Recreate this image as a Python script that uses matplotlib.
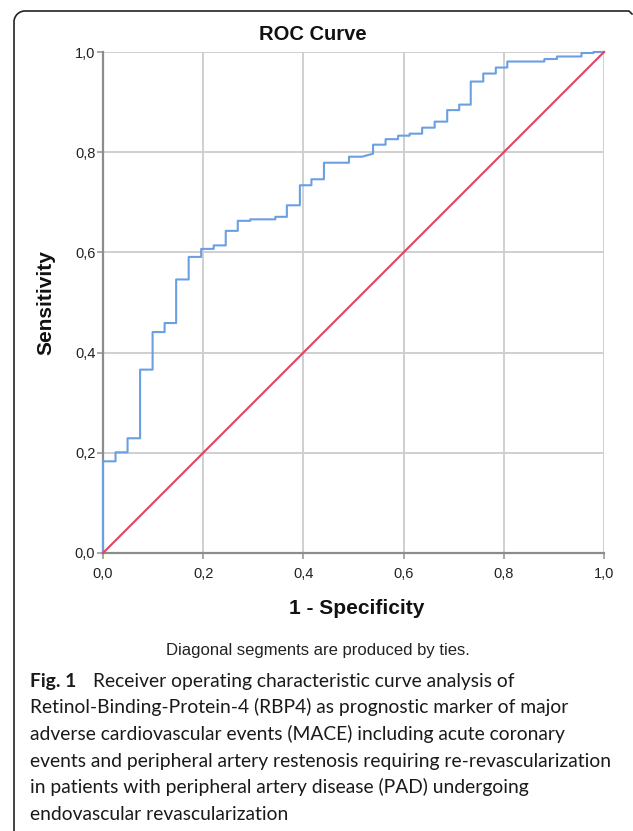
import numpy as np
import matplotlib
matplotlib.use("Agg")
import matplotlib.pyplot as plt

# ROC curve vertices (1 - specificity, sensitivity)
fpr = [0, 0, 0.025, 0.025, 0.049, 0.049, 0.074, 0.074, 0.099, 0.099,
       0.123, 0.123, 0.146, 0.146, 0.171, 0.171, 0.196, 0.196, 0.221, 0.221,
       0.245, 0.245, 0.269, 0.269, 0.294, 0.294, 0.344, 0.344, 0.367, 0.367,
       0.393, 0.393, 0.416, 0.416, 0.441, 0.441, 0.491, 0.491, 0.517, 0.539,
       0.539, 0.564, 0.564, 0.589, 0.589, 0.612, 0.612, 0.637, 0.637, 0.662,
       0.662, 0.687, 0.687, 0.711, 0.711, 0.734, 0.734, 0.759, 0.759, 0.784,
       0.784, 0.807, 0.807, 0.881, 0.881, 0.906, 0.906, 0.955, 0.955, 0.979,
       0.979, 1.0]
tpr = [0, 0.183, 0.183, 0.201, 0.201, 0.229, 0.229, 0.366, 0.366, 0.441,
       0.441, 0.459, 0.459, 0.546, 0.546, 0.591, 0.591, 0.607, 0.607, 0.614,
       0.614, 0.643, 0.643, 0.663, 0.663, 0.666, 0.666, 0.671, 0.671, 0.694,
       0.694, 0.734, 0.734, 0.746, 0.746, 0.779, 0.779, 0.791, 0.791, 0.797,
       0.815, 0.815, 0.826, 0.826, 0.833, 0.833, 0.837, 0.837, 0.849, 0.849,
       0.861, 0.861, 0.884, 0.884, 0.895, 0.895, 0.941, 0.941, 0.957, 0.957,
       0.969, 0.969, 0.981, 0.981, 0.986, 0.986, 0.991, 0.991, 0.998, 0.998,
       1.0, 1.0]
ref_line = [0, 1]

ticks = [0, 0.2, 0.4, 0.6, 0.8, 1.0]
tick_labels = ["0,0", "0,2", "0,4", "0,6", "0,8", "1,0"]

caption = [
    "Retinol-Binding-Protein-4 (RBP4) as prognostic marker of major",
    "adverse cardiovascular events (MACE) including acute coronary",
    "events and peripheral artery restenosis requiring re-revascularization",
    "in patients with peripheral artery disease (PAD) undergoing",
    "endovascular revascularization",
]
caption_first = "Receiver operating characteristic curve analysis of"

W, H = 633, 831
fig = plt.figure(figsize=(W / 100, H / 100), dpi=100)
plt.rcParams['font.family'] = ['Liberation Sans', 'DejaVu Sans']

# plot area in pixels: x 103..604, y 52..553
ax = fig.add_axes([103 / W, (H - 553) / H, 501 / W, 501 / H])
ax.set_xlim(0, 1)
ax.set_ylim(0, 1)
ax.grid(True, color="#cfcfcf", lw=1.4)
ax.set_axisbelow(True)
ax.set_xticks(ticks)
ax.set_yticks(ticks)
ax.set_xticklabels(tick_labels)
ax.set_yticklabels(tick_labels)
ax.tick_params(length=4, width=1.2, color="#999999", labelsize=10.5,
               labelcolor="#222222")
ax.tick_params(axis="y", pad=1.5)
ax.tick_params(axis="x", pad=6)
for s in ["top", "right"]:
    ax.spines[s].set_visible(False)
for s in ["left", "bottom"]:
    ax.spines[s].set_color("#8c8c8c")
    ax.spines[s].set_linewidth(1.6)

ax.plot(fpr, tpr, color="#6b9fe3", lw=1.5, clip_on=False, zorder=3)
ax.plot(ref_line, ref_line, color="#e04360", lw=1.5, clip_on=False, zorder=3)

# overlay in pixel coordinates for titles, notes, caption and frame
ov = fig.add_axes([0, 0, 1, 1], zorder=-1)
ov.set_xlim(0, W)
ov.set_ylim(H, 0)
ov.axis("off")

ov.text(313, 35, "ROC Curve", fontsize=14.5, fontweight="bold",
        ha="center", va="center", color="#111111")
ov.text(357, 608, "1 - Specificity", fontsize=15, fontweight="bold",
        ha="center", va="center", color="#111111")
ov.text(46, 303, "Sensitivity", fontsize=15, fontweight="bold",
        ha="center", va="center", rotation=90, color="#111111")
ov.text(318, 650, "Diagonal segments are produced by ties.", fontsize=12,
        ha="center", va="center", color="#222222")

cap_font = ['Lato', 'DejaVu Sans']
cap_size = 13.9
base = 686.5
step = 26.7
ov.text(30, base, "Fig. 1", fontsize=cap_size, fontweight="bold",
        family=cap_font, va="baseline", color="#1a1a1a")
ov.text(93, base, caption_first, fontsize=cap_size, family=cap_font,
        va="baseline", color="#1a1a1a")
for i, line in enumerate(caption):
    ov.text(30, base + step * (i + 1), line, fontsize=cap_size,
            family=cap_font, va="baseline", color="#1a1a1a")

# rounded frame on the left and top
r = 11
t = np.linspace(np.pi, 1.5 * np.pi, 20)
fx = np.concatenate([[14], 14 + r + r * np.cos(t), [629, 632]])
fy = np.concatenate([[H], 11 + r + r * np.sin(t), [11, 14]])
ov.plot(fx, fy, color="#222222", lw=1.2)

fig.savefig("out.png", dpi=100)
